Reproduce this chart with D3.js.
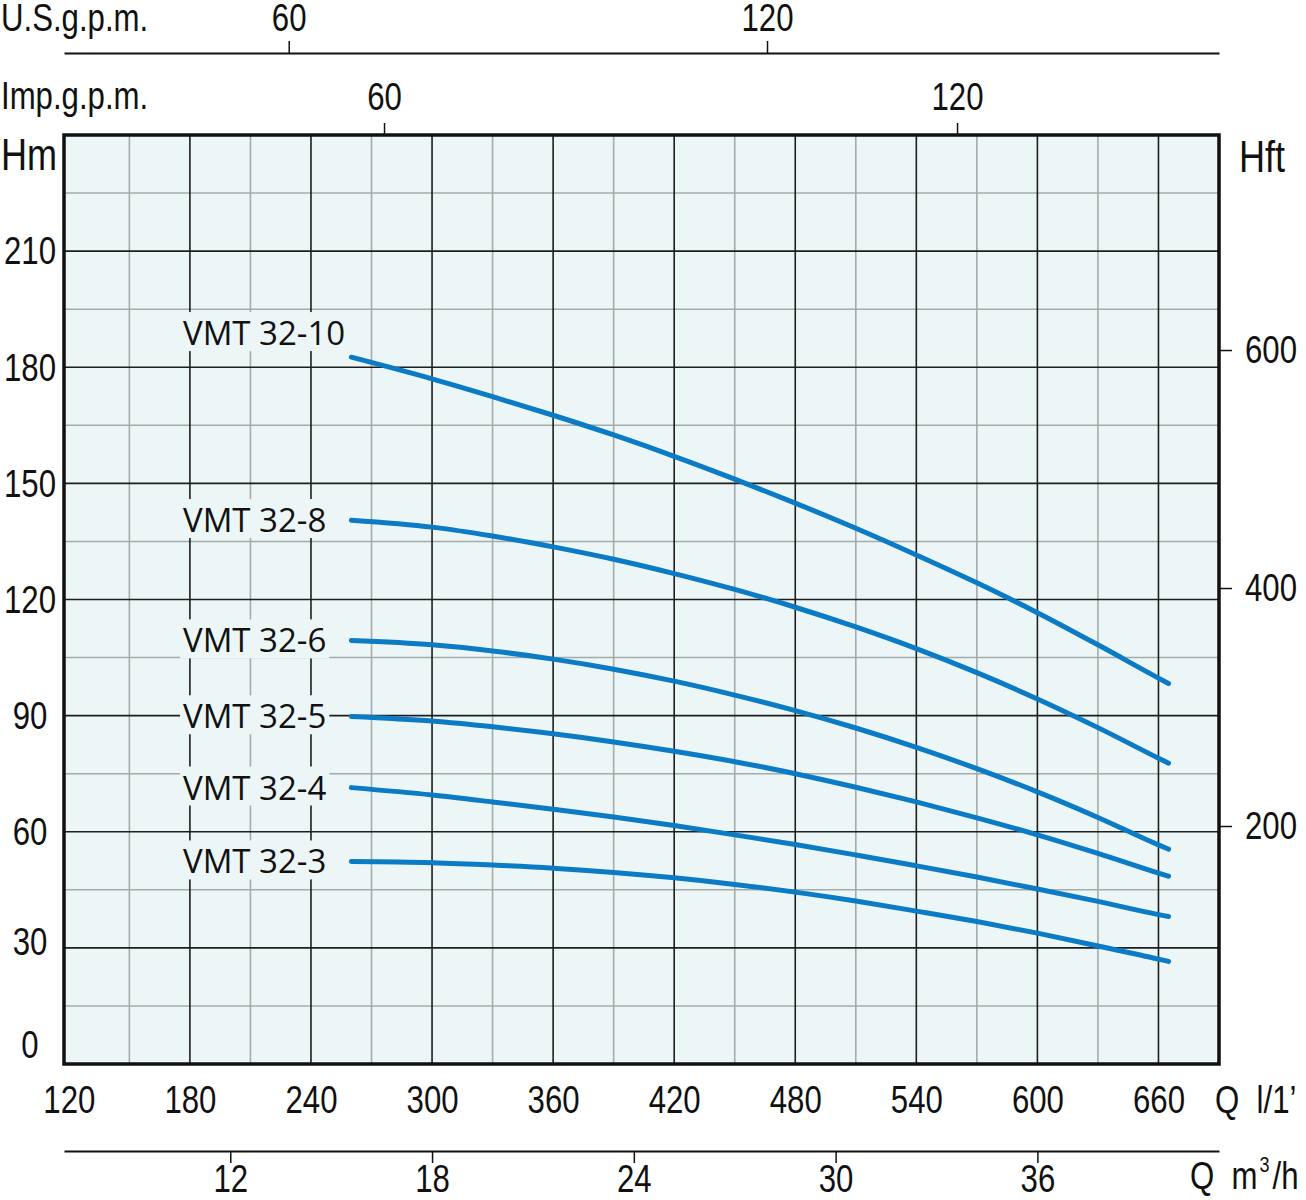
<!DOCTYPE html>
<html>
<head>
<meta charset="utf-8">
<script src="https://cdn.jsdelivr.net/npm/d3@7"></script>
<style>
  html, body { margin: 0; padding: 0; background: #ffffff; }
  svg { display: block; }
  .ax { font-family: "Liberation Sans", Arial, sans-serif; font-size: 38px; fill: #111; }
  .lbl { font-family: "Open Sans", "Noto Sans", sans-serif; font-size: 33px; fill: #111; }
</style>
</head>
<body>
<svg id="chart" width="1306" height="1200"></svg>
<script>
// ---------------- data ----------------
const flowLmin = [260, 300, 330, 360, 390, 420, 450, 480, 510, 540, 570, 600, 630, 660, 665];
const seriesNames = ["VMT 32-10", "VMT 32-8", "VMT 32-6", "VMT 32-5", "VMT 32-4", "VMT 32-3"];
const headVMT32_10 = [182.6, 177.0, 172.4, 167.6, 162.5, 157.0, 151.1, 144.9, 138.4, 131.5, 124.3, 116.6, 108.3, 99.7, 98.3];
const headVMT32_8  = [140.5, 138.7, 136.4, 133.6, 130.4, 126.7, 122.6, 118.0, 112.9, 107.3, 101.1, 94.3, 86.9, 79.0, 77.7];
const headVMT32_6  = [109.4, 108.3, 106.7, 104.6, 102.0, 98.9, 95.3, 91.3, 86.8, 81.8, 76.3, 70.3, 63.7, 56.6, 55.5];
const headVMT32_5  = [89.8, 88.6, 87.1, 85.3, 83.2, 80.8, 78.1, 75.0, 71.5, 67.7, 63.6, 59.2, 54.4, 49.3, 48.5];
const headVMT32_4  = [71.4, 69.5, 67.7, 65.8, 63.8, 61.6, 59.2, 56.7, 54.0, 51.2, 48.3, 45.2, 42.0, 38.6, 38.1];
const headVMT32_3  = [52.3, 52.0, 51.4, 50.6, 49.5, 48.1, 46.4, 44.4, 42.1, 39.5, 36.8, 33.8, 30.5, 27.1, 26.5];
const seriesHeads = [headVMT32_10, headVMT32_8, headVMT32_6, headVMT32_5, headVMT32_4, headVMT32_3];

const lminTicks = [120, 180, 240, 300, 360, 420, 480, 540, 600, 660];
const lminMinor = [150, 210, 270, 330, 390, 450, 510, 570, 630];
const hmTicks = [0, 30, 60, 90, 120, 150, 180, 210];
const hmMinor = [15, 45, 75, 105, 135, 165, 195, 225];
const hftTicks = [200, 400, 600];
const usTicks = [60, 120];
const impTicks = [60, 120];
const m3hTicks = [12, 18, 24, 30, 36];

// ---------------- layout ----------------
const L = 64, R = 1219, T = 135, B = 1064;
const bg = "#edf6f7";
const blue = "#0a7bc4";
const NARROW = 0.82;

const svg = d3.select("#chart");

const x = d3.scaleLinear().domain([117.6, 690]).range([L, R]);
const y = d3.scaleLinear().domain([0, 240]).range([B, T]);
const yFt = d3.scaleLinear().domain([0, 780.7]).range([B, T]);
const xUS = d3.scaleLinear().domain([31.81, 176.7]).range([L, R]);
const xImp = d3.scaleLinear().domain([26.49, 147.43]).range([L, R]);
const xM3h = d3.scaleLinear().domain(x.domain().map(d => d * 0.06)).range([L, R]);

function condense(sel) {
  sel.each(function () {
    const w = this.getComputedTextLength();
    d3.select(this).attr("textLength", (w * NARROW).toFixed(1)).attr("lengthAdjust", "spacingAndGlyphs");
  });
}

// background
svg.append("rect").attr("x", L).attr("y", T).attr("width", R - L).attr("height", B - T).attr("fill", bg);

// grid
const grid = svg.append("g");
grid.selectAll(".vmin").data(lminMinor).join("line")
  .attr("x1", d => x(d)).attr("x2", d => x(d)).attr("y1", T).attr("y2", B)
  .attr("stroke", "#a3abab").attr("stroke-width", 1.6);
grid.selectAll(".hmin").data(hmMinor).join("line")
  .attr("x1", L).attr("x2", R).attr("y1", d => y(d)).attr("y2", d => y(d))
  .attr("stroke", "#a3abab").attr("stroke-width", 1.6);
grid.selectAll(".vmaj").data(lminTicks.filter(d => d > 120)).join("line")
  .attr("x1", d => x(d)).attr("x2", d => x(d)).attr("y1", T).attr("y2", B)
  .attr("stroke", "#1e1e1e").attr("stroke-width", 1.6);
grid.selectAll(".hmaj").data(hmTicks.filter(d => d > 0)).join("line")
  .attr("x1", L).attr("x2", R).attr("y1", d => y(d)).attr("y2", d => y(d))
  .attr("stroke", "#1e1e1e").attr("stroke-width", 1.6);

// curve labels with background patches
const labelShift = { "VMT 32-10": -24 };
const labels = svg.append("g");
seriesNames.forEach((name, i) => {
  const cy = y(seriesHeads[i][0]) + (labelShift[name] || 0);
  const g = labels.append("g");
  const t = g.append("text").attr("class", "lbl").attr("x", 183).attr("y", cy).attr("dy", "0.36em").text(name);
  const bb = t.node().getBBox();
  g.insert("rect", "text").attr("x", bb.x - 3).attr("y", bb.y + 2).attr("width", bb.width + 6).attr("height", bb.height - 6).attr("fill", bg);
});

// curves
const line = d3.line().x(d => x(d[0])).y(d => y(d[1])).curve(d3.curveMonotoneX);
svg.append("g").selectAll("path").data(seriesHeads).join("path")
  .attr("d", h => line(flowLmin.map((q, j) => [q, h[j]])))
  .attr("fill", "none").attr("stroke", blue).attr("stroke-width", 5).attr("stroke-linecap", "round");

// frame
svg.append("rect").attr("x", L).attr("y", T).attr("width", R - L).attr("height", B - T)
  .attr("fill", "none").attr("stroke", "#111").attr("stroke-width", 3.5);

function styleAxis(g) {
  g.selectAll("text").attr("class", "ax").attr("fill", "#111");
  g.selectAll("line").attr("stroke", "#111").attr("stroke-width", 1.5);
  g.select(".domain").attr("stroke", "#111").attr("stroke-width", 1.8);
  g.attr("font-size", null).attr("font-family", null);
}

// bottom l/min axis (labels only)
const gx = svg.append("g").attr("transform", `translate(0,${B})`)
  .call(d3.axisBottom(x).tickValues(lminTicks).tickSize(0).tickPadding(22).tickSizeOuter(0));
styleAxis(gx);
gx.select(".domain").remove();

// m3/h axis
const gm = svg.append("g").attr("transform", "translate(0,1151)")
  .call(d3.axisBottom(xM3h).tickValues(m3hTicks).tickSize(12).tickPadding(2).tickSizeOuter(0));
styleAxis(gm);

// US gpm axis
const gu = svg.append("g").attr("transform", "translate(0,53)")
  .call(d3.axisTop(xUS).tickValues(usTicks).tickSize(12).tickPadding(10).tickSizeOuter(0));
styleAxis(gu);

// Imp gpm axis
const gi = svg.append("g").attr("transform", `translate(0,${T})`)
  .call(d3.axisTop(xImp).tickValues(impTicks).tickSize(12).tickPadding(13).tickSizeOuter(0));
styleAxis(gi);
gi.select(".domain").remove();

// right ft axis
const gf = svg.append("g").attr("transform", `translate(${R},0)`)
  .call(d3.axisRight(yFt).tickValues(hftTicks).tickSize(13).tickPadding(13).tickSizeOuter(0));
styleAxis(gf);
gf.select(".domain").remove();

// left m labels
svg.append("g").selectAll("text").data(hmTicks).join("text")
  .attr("class", "ax").attr("text-anchor", "middle").attr("x", 30)
  .attr("y", d => y(d) - (d === 0 ? 19 : (d === 30 ? 6 : 0)))
  .attr("dy", "0.35em").text(d => d);

// unit titles
svg.append("text").attr("class", "ax").attr("x", 1).attr("y", 31).text("U.S.g.p.m.");
svg.append("text").attr("class", "ax").attr("x", 1).attr("y", 109).text("Imp.g.p.m.");
svg.append("text").attr("class", "ax").attr("x", 1).attr("y", 170).style("font-size", "44px").text("Hm");
svg.append("text").attr("class", "ax").attr("x", 1239).attr("y", 172).style("font-size", "44px").text("Hft");
svg.append("text").attr("class", "ax").attr("x", 1215).attr("y", 1113).attr("xml:space", "preserve").text("Q  l/1’");

condense(svg.selectAll("text.ax"));

// Q m³/h title, built from pieces so the superscript sits cleanly
const qm1 = svg.append("text").attr("class", "ax unit").attr("x", 1190).attr("y", 1189).attr("xml:space", "preserve").text("Q  m");
condense(qm1);
const qmEnd = 1190 + +qm1.attr("textLength");
const qm2 = svg.append("text").attr("class", "ax unit").attr("x", qmEnd + 2).attr("y", 1172).style("font-size", "22px").text("3");
condense(qm2);
const qm3 = svg.append("text").attr("class", "ax unit").attr("x", qmEnd + 2 + +qm2.attr("textLength") + 3).attr("y", 1189).text("/h");
condense(qm3);
</script>
</body>
</html>
